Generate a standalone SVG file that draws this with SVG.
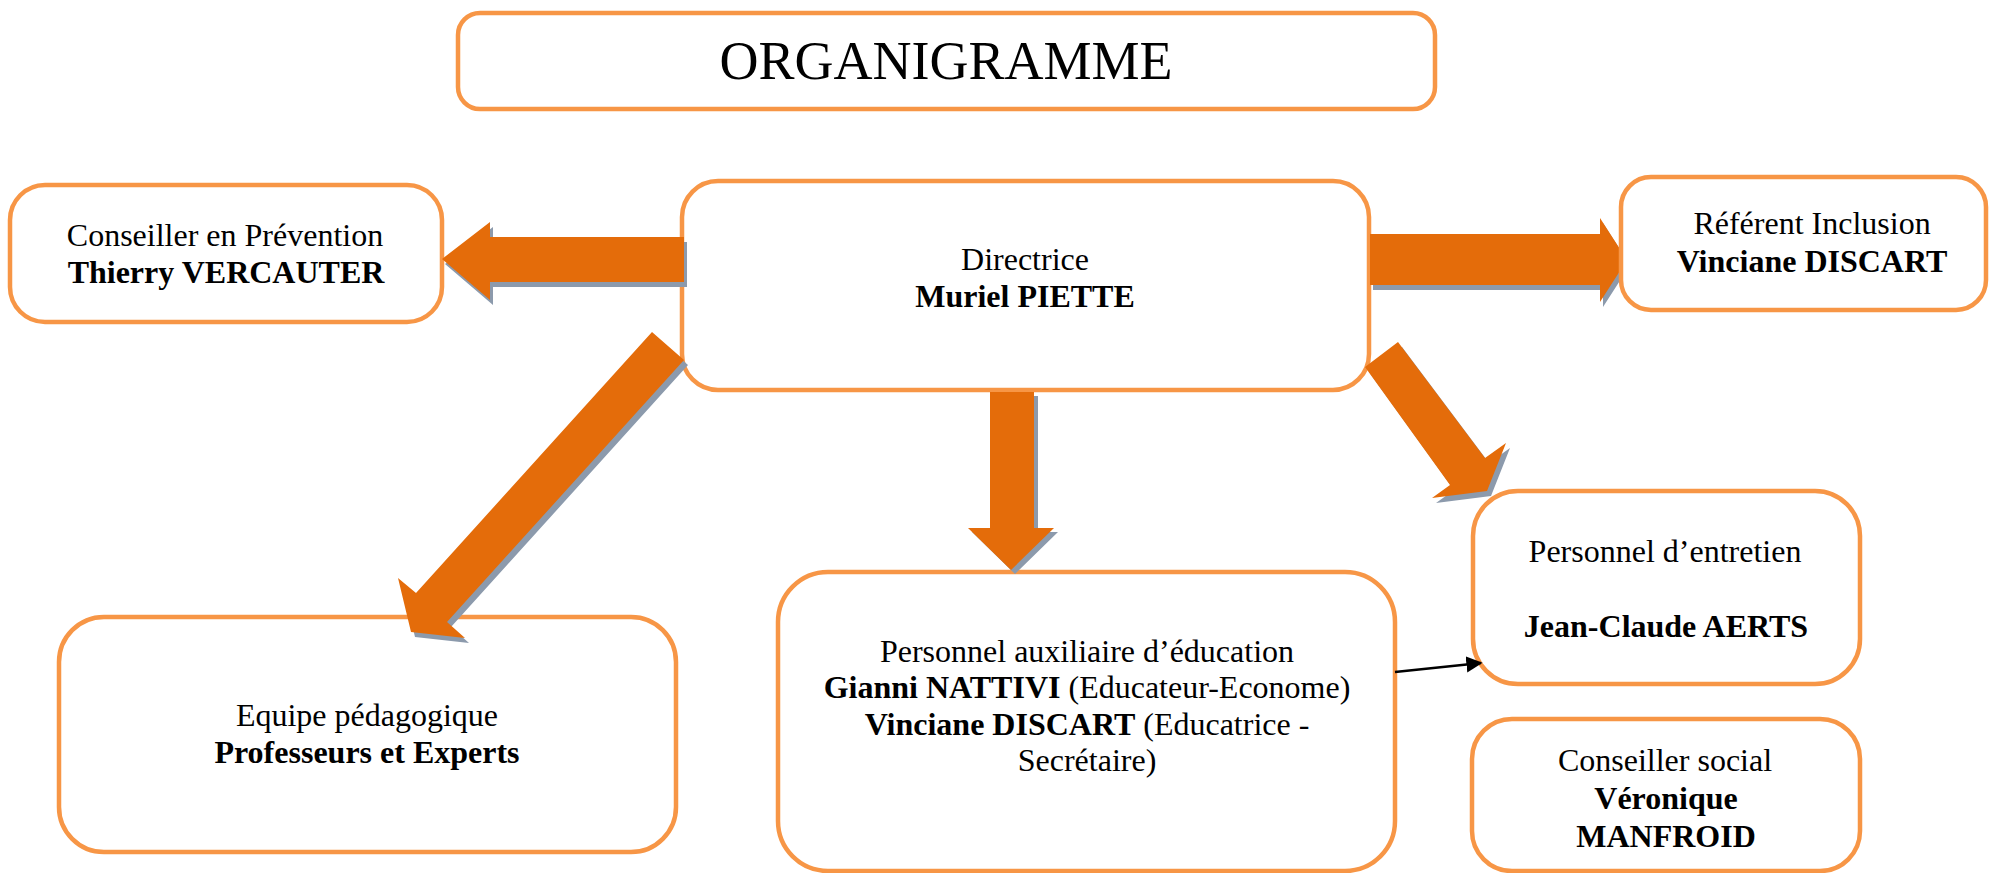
<svg xmlns="http://www.w3.org/2000/svg" width="1990" height="873" viewBox="0 0 1990 873">
<style>
.box{fill:#fff;stroke:#F79646;stroke-width:4.5}
.t{font-family:"Liberation Serif","Times New Roman",serif;font-size:32px;fill:#000;text-anchor:middle}
.b{font-weight:bold}
.arr{fill:#E46C0A}
.sh{fill:#8C9AAC}
.ln{stroke:#000;stroke-width:2.5;fill:none}
</style>
<defs>
<marker id="ah" viewBox="0 0 10 10" refX="9" refY="5" markerWidth="6.5" markerHeight="6.5" orient="auto" markerUnits="strokeWidth">
<path d="M0,0 L10,5 L0,10 z" fill="#000"/>
</marker>
</defs>
<rect width="1990" height="873" fill="#fff"/>

<g id="title">
<rect class="box" x="458" y="13" width="977" height="96" rx="22"/>
<text class="t" x="946" y="79" style="font-size:54px">ORGANIGRAMME</text>
</g>

<g id="directrice">
<rect class="box" x="682" y="181" width="687" height="209" rx="36"/>
<text class="t" x="1025" y="270">Directrice</text>
<text class="t b" x="1025" y="307">Muriel PIETTE</text>
</g>

<g id="conseiller-prevention">
<rect class="box" x="10" y="185" width="432" height="137" rx="35"/>
<text class="t" x="225" y="246">Conseiller en Prévention</text>
<text class="t b" x="226" y="283">Thierry VERCAUTER</text>
</g>

<g id="equipe">
<rect class="box" x="59" y="617" width="617" height="235" rx="45"/>
<text class="t" x="367" y="726">Equipe pédagogique</text>
<text class="t b" x="367" y="763">Professeurs et Experts</text>
</g>

<g id="auxiliaire">
<rect class="box" x="778" y="572" width="617" height="299" rx="50"/>
<text class="t" x="1087" y="662">Personnel auxiliaire d’éducation</text>
<text class="t" x="1087" y="698"><tspan class="b">Gianni NATTIVI</tspan> (Educateur-Econome)</text>
<text class="t" x="1087" y="735"><tspan class="b">Vinciane DISCART</tspan> (Educatrice -</text>
<text class="t" x="1087" y="771">Secrétaire)</text>
</g>

<g id="entretien">
<rect class="box" x="1473" y="491" width="387" height="193" rx="45"/>
<text class="t" x="1665" y="562">Personnel d’entretien</text>
<text class="t b" x="1666" y="637">Jean-Claude AERTS</text>
</g>

<g id="conseiller-social">
<rect class="box" x="1472" y="719" width="388" height="152" rx="40"/>
<text class="t" x="1665" y="771">Conseiller social</text>
<text class="t b" x="1666" y="809">Véronique</text>
<text class="t b" x="1666" y="847">MANFROID</text>
</g>

<g id="connectors">
<!-- left arrow -->
<polygon class="sh" transform="translate(3,5)" points="684,237 490,237 490,222 442,259 490,300 490,282 684,282"/>
<polygon class="arr" points="684,237 490,237 490,222 442,259 490,300 490,282 684,282"/>
<!-- right arrow -->
<polygon class="sh" transform="translate(3,5)" points="1370,234 1600,234 1600,218 1627,260 1600,302 1600,285 1370,285"/>
<polygon class="arr" points="1370,234 1600,234 1600,218 1627,260 1600,302 1600,285 1370,285"/>
<!-- down arrow -->
<polygon class="sh" transform="translate(4,4)" points="990,392 1034,392 1034,528 1054,528 1011,570 968,528 990,528"/>
<polygon class="arr" points="990,392 1034,392 1034,528 1054,528 1011,570 968,528 990,528"/>
<!-- diagonal left arrow -->
<polygon class="sh" transform="translate(4,5)" points="652,332 416,593 398,578 411,632 465,638 447,622 684,360"/>
<polygon class="arr" points="652,332 416,593 398,578 411,632 465,638 447,622 684,360"/>
<!-- diagonal right arrow -->
<polygon class="sh" transform="translate(4,5)" points="1398,342 1485,458 1506,443 1487,491 1432,498 1450,485 1365,367"/>
<polygon class="arr" points="1398,342 1485,458 1506,443 1487,491 1432,498 1450,485 1365,367"/>
<!-- thin connector -->
<line class="ln" x1="1395" y1="672" x2="1481" y2="663" marker-end="url(#ah)"/>
</g>

<g id="referent">
<rect class="box" x="1621" y="177" width="365" height="133" rx="30"/>
<text class="t" x="1812" y="234">Référent Inclusion</text>
<text class="t b" x="1812" y="272">Vinciane DISCART</text>
</g>
</svg>
